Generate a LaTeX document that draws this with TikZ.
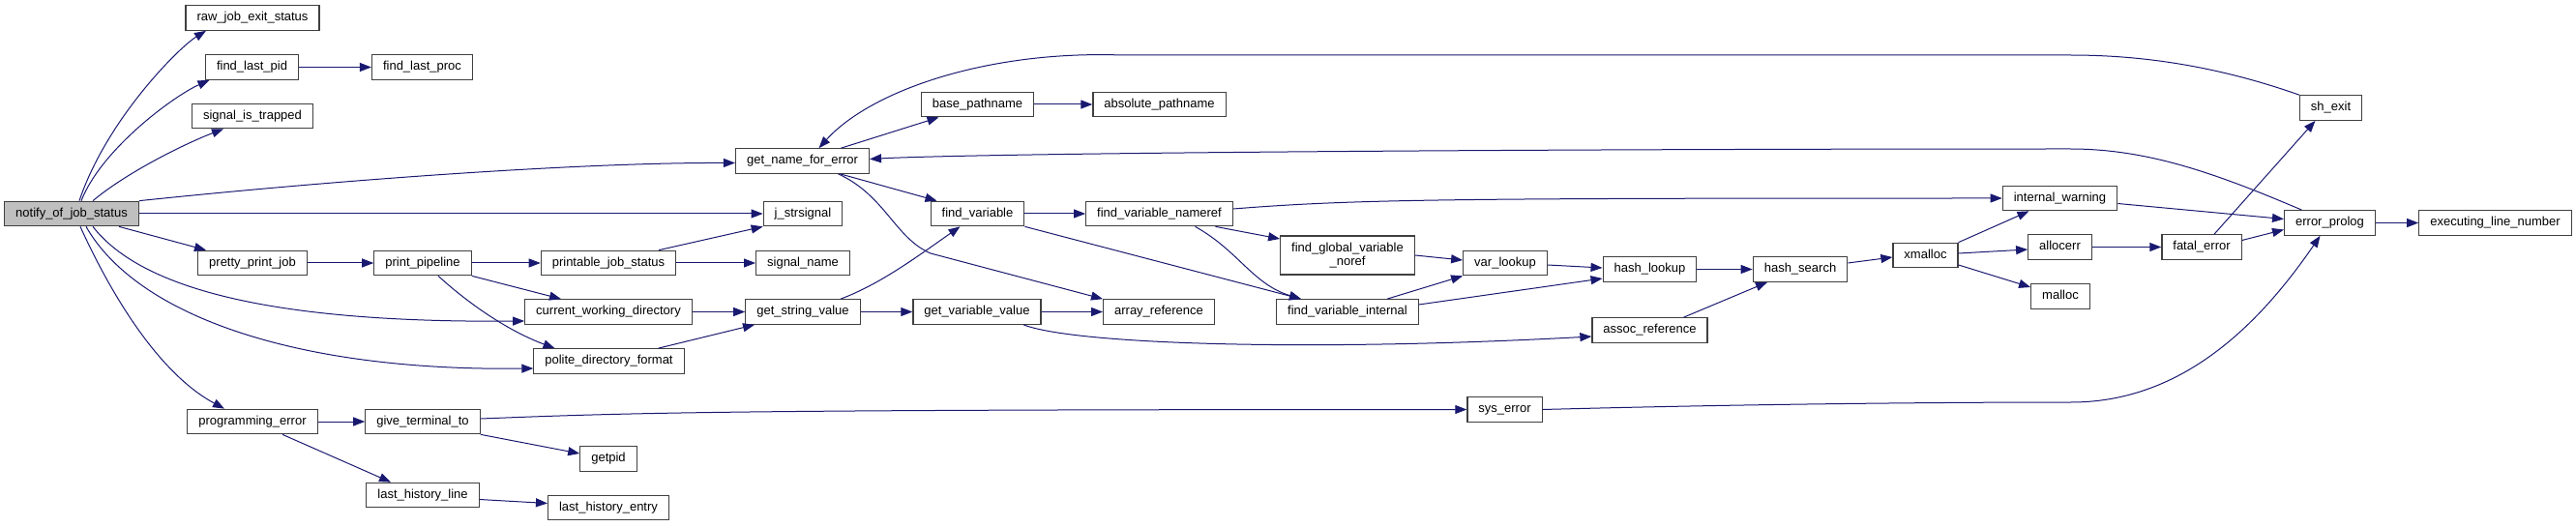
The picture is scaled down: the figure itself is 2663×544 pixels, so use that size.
\documentclass[tikz,border=0pt]{standalone}
\usepackage{fontspec}
\setmainfont{Liberation Sans}
\usetikzlibrary{arrows.meta}
\definecolor{edgeblue}{HTML}{191970}
\definecolor{nodegray}{HTML}{BFBFBF}
\definecolor{boxline}{HTML}{404040}
\begin{document}
\begin{tikzpicture}[
			x=1pt, y=1pt,
			fn/.style={draw=boxline, fill=white, line width=1.2pt, font=\fontsize{13}{14}\selectfont,
				inner xsep=11.5pt, inner ysep=0pt, minimum height=25.5pt, text height=9.5pt, text depth=3pt},
			cur/.style={fn, fill=nodegray},
			calls/.style={draw=edgeblue, line width=1pt, -{Triangle[length=12pt,width=9pt]}}
			]
			\useasboundingbox (0,0) rectangle (2663,544);
			% rank 0..3
			\node[cur] (notify) at (74,323) {notify\_of\_job\_status};
			\node[fn] (rawexit) at (261,525.5) {raw\_job\_exit\_status};
			\node[fn] (lastpid) at (260.5,474.5) {find\_last\_pid};
			\node[fn] (lastproc) at (436.5,474.5) {find\_last\_proc};
			\node[fn] (sigtrap) at (261,424) {signal\_is\_trapped};
			\node[fn] (prettyjob) at (261,272) {pretty\_print\_job};
			\node[fn] (pipeline) at (437,272) {print\_pipeline};
			\node[fn] (printstat) at (629,272) {printable\_job\_status};
			\node[fn] (cwdir) at (629,221.5) {current\_working\_directory};
			\node[fn] (politedir) at (629.5,170.5) {polite\_directory\_format};
			\node[fn] (progerr) at (261,108) {programming\_error};
			\node[fn] (giveterm) at (437,108) {give\_terminal\_to};
			\node[fn] (getpid) at (629,69.5) {getpid};
			\node[fn] (lasthline) at (437,32) {last\_history\_line};
			\node[fn] (lasthentry) at (629,19) {last\_history\_entry};
			% rank 4..7
			\node[fn] (nameerr) at (829.5,377.5) {get\_name\_for\_error};
			\node[fn] (strsig) at (830,323) {j\_strsignal};
			\node[fn] (signame) at (830,272) {signal\_name};
			\node[fn] (strvalue) at (830,221.5) {get\_string\_value};
			\node[fn] (basepath) at (1010.5,436) {base\_pathname};
			\node[fn] (findvar) at (1010.5,323) {find\_variable};
			\node[fn] (varvalue) at (1010,221.5) {get\_variable\_value};
			\node[fn] (abspath) at (1198.5,436) {absolute\_pathname};
			\node[fn] (varnameref) at (1198.5,323) {find\_variable\_nameref};
			\node[fn] (arrayref) at (1198,221.5) {array\_reference};
			\node[fn, align=center, minimum height=40pt, text height=, text depth=] (globnoref) at (1393,280) {find\_global\_variable\\\_noref};
			\node[fn] (varinternal) at (1393,221.5) {find\_variable\_internal};
			% rank 8..15
			\node[fn] (varlookup) at (1556,272) {var\_lookup};
			\node[fn] (syserr) at (1555.5,120.5) {sys\_error};
			\node[fn] (hashlookup) at (1705.5,265.5) {hash\_lookup};
			\node[fn] (assocref) at (1705.5,202.5) {assoc\_reference};
			\node[fn] (hashsearch) at (1861,265.5) {hash\_search};
			\node[fn] (xmalloc) at (1990.5,280) {xmalloc};
			\node[fn] (intwarn) at (2129.5,339) {internal\_warning};
			\node[fn] (allocerr) at (2129.5,288.5) {allocerr};
			\node[fn] (malloc) at (2130,237.5) {malloc};
			\node[fn] (fatalerr) at (2276,288.5) {fatal\_error};
			\node[fn] (shexit) at (2409.5,432.5) {sh\_exit};
			\node[fn] (errprolog) at (2408.5,313.5) {error\_prolog};
			\node[fn] (execline) at (2579.5,313.5) {executing\_line\_number};

			% calls out of notify_of_job_status
			\draw[calls] ([xshift=8pt]notify.north) .. controls (110,420) and (185,495) .. ([xshift=-48pt]rawexit.south);
			\draw[calls] ([xshift=10pt]notify.north) .. controls (105,390) and (180,445) .. ([xshift=-44pt]lastpid.south);
			\draw[calls] ([xshift=22pt]notify.north) .. controls (130,365) and (190,395) .. ([xshift=-30pt]sigtrap.south);
			\draw[calls] (notify.north east) .. controls (350,358) and (600,376) .. ([yshift=-2pt]nameerr.west);
			\draw[calls] (notify) -- (strsig);
			\draw[calls] ([xshift=49pt]notify.south) -- ([xshift=-48pt]prettyjob.north);
			\draw[calls] ([xshift=22pt]notify.south) .. controls (150,240) and (300,210) .. ([yshift=-9.5pt]cwdir.west);
			\draw[calls] ([xshift=15pt]notify.south) .. controls (140,220) and (300,160) .. ([yshift=-7.5pt]politedir.west);
			\draw[calls] ([xshift=9pt]notify.south) .. controls (110,250) and (160,160) .. ([xshift=-29pt]progerr.north);

			\draw[calls] (lastpid) -- (lastproc);
			\draw[calls] (prettyjob) -- (pipeline);
			\draw[calls] (pipeline) -- (printstat);
			\draw[calls] (pipeline.south east) -- ([xshift=-49pt]cwdir.north);
			\draw[calls] ([xshift=16pt]pipeline.south) .. controls (490,225) and (530,200) .. ([xshift=-56pt]politedir.north);
			\draw[calls] ([xshift=52pt]printstat.north) -- (strsig.south west);
			\draw[calls] (printstat) -- (signame);
			\draw[calls] (cwdir) -- (strvalue);
			\draw[calls] ([xshift=51pt]politedir.north) -- ([xshift=-50pt]strvalue.south);

			% get_name_for_error and the variable lookups
			\draw[calls] ([xshift=40pt]nameerr.north) -- ([xshift=-40pt]basepath.south);
			\draw[calls] ([xshift=39pt]nameerr.south) -- ([xshift=-42pt]findvar.north);
			\draw[calls] ([xshift=37pt]nameerr.south) .. controls (915,342) and (925,298) .. (962,282) -- (arrayref.north west);
			\draw[calls] (basepath) -- (abspath);
			\draw[calls] ([xshift=39pt]strvalue.north) .. controls (910,250) and (950,280) .. ([xshift=-18pt]findvar.south);
			\draw[calls] (strvalue) -- (varvalue);
			\draw[calls] (varvalue) -- (arrayref);
			\draw[calls] ([xshift=48pt]varvalue.south) .. controls (1110,188) and (1350,180) .. ([yshift=-6.5pt]assocref.west);
			\draw[calls] (findvar) -- (varnameref);
			\draw[calls] (findvar.south east) -- ([xshift=-48pt]varinternal.north);
			\draw[calls] ([yshift=5pt]varnameref.east) .. controls (1400,338) and (1500,339) .. (intwarn.west);
			\draw[calls] ([xshift=58pt]varnameref.south) -- ([yshift=17pt]globnoref.west);
			\draw[calls] ([xshift=37pt]varnameref.south) .. controls (1280,285) and (1295,250) .. ([xshift=-48pt]varinternal.north);
			\draw[calls] (globnoref.east) -- ([yshift=3pt]varlookup.west);
			\draw[calls] ([xshift=41pt]varinternal.north) -- (varlookup.south west);
			\draw[calls] ([yshift=7.5pt]varinternal.east) -- ([yshift=-9.5pt]hashlookup.west);
			\draw[calls] ([yshift=-2pt]varlookup.east) -- ([yshift=1.5pt]hashlookup.west);
			\draw[calls] (hashlookup) -- (hashsearch);
			\draw[calls] ([xshift=35pt]assocref.north) -- ([xshift=-34pt]hashsearch.south);
			\draw[calls] ([yshift=6.5pt]hashsearch.east) -- ([yshift=-2pt]xmalloc.west);
			\draw[calls] (xmalloc.north east) -- ([xshift=-32pt]intwarn.south);
			\draw[calls] ([yshift=2pt]xmalloc.east) -- ([yshift=-2.5pt]allocerr.west);
			\draw[calls] ([yshift=-10pt]xmalloc.east) -- ([yshift=9.5pt]malloc.west);
			\draw[calls] (allocerr) -- (fatalerr);
			\draw[calls] ([xshift=13pt]fatalerr.north) -- ([xshift=-16pt]shexit.south);
			\draw[calls] ([yshift=7pt]fatalerr.east) -- ([yshift=-7pt]errprolog.west);
			\draw[calls] ([yshift=-5.5pt]intwarn.east) -- ([yshift=4pt]errprolog.west);
			\draw[calls] (errprolog) -- (execline);
			\draw[calls] ([xshift=-29pt]errprolog.north) .. controls (2290,365) and (2220,390) .. (2140,390) .. controls (1500,390) and (1000,385) .. ([yshift=2pt]nameerr.east);
			\draw[calls] (shexit.north west) .. controls (2280,480) and (2200,487) .. (2140,487) -- (1160,487) .. controls (1020,492) and (900,450) .. ([xshift=17pt]nameerr.north);

			% programming_error branch
			\draw[calls] (progerr) -- (giveterm);
			\draw[calls] ([xshift=31pt]progerr.south) -- ([xshift=-33pt]lasthline.north);
			\draw[calls] ([yshift=3pt]giveterm.east) .. controls (650,117) and (750,120.5) .. (syserr.west);
			\draw[calls] (giveterm.south east) -- ([yshift=5.5pt]getpid.west);
			\draw[calls] ([yshift=-4.5pt]lasthline.east) -- ([yshift=4.5pt]lasthentry.west);
			\draw[calls] (syserr.east) .. controls (1800,126) and (2000,128) .. (2141,128) .. controls (2250,128) and (2330,200) .. ([xshift=-10pt]errprolog.south);
		\end{tikzpicture}
\end{document}
